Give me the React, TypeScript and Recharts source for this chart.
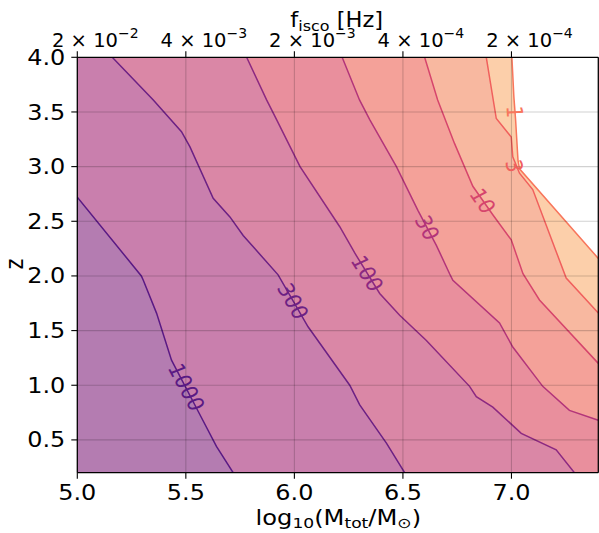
import React from 'react';
import { ComposedChart, Area, Line, XAxis, YAxis, ReferenceLine, ReferenceDot } from 'recharts';

// contour vertices as [z, log10 M]; null = gap where the label sits
type Pt = [number, number] | null;

const c1000: Pt[] = [[2.72, 5.0], [2.0, 5.295], [1.96, 5.304], [1.66, 5.365], [1.23, 5.434], null, [0.73, 5.565], [0.44, 5.641], [0.2, 5.718]];
const c300: Pt[] = [[4.0, 5.161], [3.61, 5.35], [3.32, 5.48], [3.18, 5.519], [2.71, 5.626], [2.54, 5.703], [2.37, 5.764], [2.01, 5.925], null, [1.535, 6.063], [1.0, 6.255], [0.82, 6.301], [0.47, 6.424], [0.2, 6.508]];
const c100: Pt[] = [[4.0, 5.78], [3.61, 5.872], [3.43, 5.918], [3.0, 6.026], [2.45, 6.209], [2.21, 6.278], null, [1.84, 6.393], [1.64, 6.485], [1.41, 6.608], [0.99, 6.807], [0.895, 6.838], [0.8, 6.914], [0.56, 7.045], [0.41, 7.206], [0.2, 7.29]];
const c30: Pt[] = [[4.0, 6.22], [3.61, 6.3], [3.43, 6.347], [3.0, 6.47], [2.6, 6.569], null, [2.28, 6.654], [2.02, 6.715], [1.96, 6.73], [1.57, 6.945], [1.35, 7.006], [0.99, 7.144], [0.77, 7.267], [0.68, 7.4]];
const c10: Pt[] = [[4.0, 6.6], [3.61, 6.66], [3.21, 6.738], [2.82, 6.822], null, [2.56, 6.914], [2.33, 6.999], [2.02, 7.053], [1.78, 7.129], [1.2, 7.4]];
const c3: Pt[] = [[4.0, 6.884], [3.44, 6.93], [3.27, 6.999], [3.09, 7.006], null, [2.94, 7.037], [2.79, 7.098], [1.98, 7.252], [1.66, 7.4]];
const c1: Pt[] = [[4.0, 7.002], [3.64, 7.011], null, [3.43, 7.019], [3.06, 7.03], [2.98, 7.037], [2.16, 7.4]];

const levelNames = ['1', '3', '10', '30', '100', '300', '1000'];
const contours = [c1, c3, c10, c30, c100, c300, c1000];
// fill of the band left of each contour, and the contour's own line colour
const bandFill = ['#fccfaa', '#f8b8a0', '#f4a199', '#e98f9d', '#da87a6', '#c97fad', '#b47cb1'];
const lineColor = ['#f8765c', '#f0605d', '#d6456c', '#b3357a', '#8c2981', '#6c2184', '#5a1a84'];

// contour label positions [log10 M, z, angle on screen]
const labelPos: [number, number, number][] = [
  [7.016, 3.5, 87],
  [7.014, 3.006, 75],
  [6.868, 2.687, 55],
  [6.612, 2.443, 62],
  [6.336, 2.024, 58],
  [5.994, 1.77, 60],
  [5.503, 0.984, 62],
];

const xTicks = [5.0, 5.5, 6.0, 6.5, 7.0];
const yTicks = [0.5, 1.0, 1.5, 2.0, 2.5, 3.0, 3.5, 4.0];
const fTickBase = ['2', '4', '2', '4', '2'];
const fTickExp = ['−2', '−3', '−3', '−4', '−4'];

const X_MIN = 5.0;
const X_MAX = 7.4;
const Z_MIN = 0.2;
const Z_MAX = 4.0;
const FONT = 'DejaVu Sans';
const SX = 1.14; // the reference's text is a little wide

const toLine = (pts: Pt[]) =>
  pts.map((p, i) => {
    if (p) return { z: p[0], x: p[1] };
    const prev = pts[i - 1] as [number, number];
    return { z: prev[0], x: null };
  });

const toArea = (pts: Pt[]) => {
  const out = pts.filter((p) => p !== null).map((p) => ({ z: p![0], x: p![1] }));
  if (out[0].z < Z_MAX) out.unshift({ z: Z_MAX, x: out[0].x });
  const last = out[out.length - 1];
  if (last.z > Z_MIN) out.push({ z: Z_MIN, x: last.x });
  return out;
};

const Wide = ({ x, y, sx = SX, rotate = 0, children, ...rest }: any) => (
  <g transform={`translate(${x},${y}) scale(${sx},1) rotate(${rotate})`}>
    <text x={0} y={0} fontFamily={FONT} {...rest}>
      {children}
    </text>
  </g>
);

const BottomTick = (props: any) => (
  <Wide x={props.x} y={props.y} dy="0.71em" textAnchor="middle" fontSize={21} fill="#000">
    {Number(props.payload.value).toFixed(1)}
  </Wide>
);

const LeftTick = (props: any) => (
  <Wide x={props.x} y={props.y} dy="0.36em" textAnchor="end" fontSize={21} fill="#000">
    {Number(props.payload.value).toFixed(1)}
  </Wide>
);

const TopTick = (props: any) => {
  const i = props.index;
  return (
    <text x={props.x + 18} y={props.y + 1} textAnchor="middle" fontSize={19.5} fontFamily={FONT} fill="#000">
      {fTickBase[i]} × 10
      <tspan dy={-9} fontSize={14}>{fTickExp[i]}</tspan>
    </text>
  );
};

const preAngle = (a: number, sx: number) => (Math.atan(Math.tan((a * Math.PI) / 180) * sx) * 180) / Math.PI;

export default function App() {
  return (
    <div style={{ position: 'absolute', left: 0, top: 0, width: 599, height: 533, background: '#fff' }}>
      <ComposedChart
        width={599}
        height={533}
        layout="vertical"
        margin={{ top: 0, right: 0.7, bottom: 0, left: 0 }}
      >
        <XAxis
          type="number"
          dataKey="x"
          domain={[X_MIN, X_MAX]}
          ticks={xTicks}
          allowDataOverflow
          height={60.3}
          tickSize={6}
          tickMargin={6.5}
          tick={BottomTick}
          axisLine={{ stroke: '#000', strokeWidth: 1.3 }}
          tickLine={{ stroke: '#000', strokeWidth: 1.1 }}
        />
        <XAxis
          xAxisId="top"
          orientation="top"
          type="number"
          domain={[X_MIN, X_MAX]}
          ticks={xTicks}
          allowDataOverflow
          height={57.3}
          tickSize={6}
          tickMargin={5}
          tick={TopTick}
          axisLine={{ stroke: '#000', strokeWidth: 1.3 }}
          tickLine={{ stroke: '#000', strokeWidth: 1.1 }}
        />
        <YAxis
          type="number"
          dataKey="z"
          domain={[Z_MIN, Z_MAX]}
          ticks={yTicks}
          reversed
          allowDataOverflow
          width={77.3}
          tickSize={6}
          tickMargin={6}
          tick={LeftTick}
          axisLine={{ stroke: '#000', strokeWidth: 1.3 }}
          tickLine={{ stroke: '#000', strokeWidth: 1.1 }}
        />
        {contours.map((c, i) => (
          <Area
            key={'a' + levelNames[i]}
            data={toArea(c)}
            dataKey="x"
            type="linear"
            baseValue={X_MIN}
            fill={bandFill[i]}
            fillOpacity={1}
            stroke="none"
            isAnimationActive={false}
          />
        ))}
        {contours.map((c, i) => (
          <Line
            key={'l' + levelNames[i]}
            data={toLine(c)}
            dataKey="x"
            type="linear"
            stroke={lineColor[i]}
            strokeWidth={1.5}
            dot={false}
            connectNulls={false}
            isAnimationActive={false}
          />
        ))}
        {xTicks.slice(1).map((t) => (
          <ReferenceLine key={'gx' + t} x={t} stroke="#000" strokeOpacity={0.18} strokeWidth={1.1} />
        ))}
        {yTicks.slice(0, -1).map((t) => (
          <ReferenceLine key={'gy' + t} y={t} stroke="#000" strokeOpacity={0.18} strokeWidth={1.1} />
        ))}
        <ReferenceLine x={X_MAX} stroke="#000" strokeWidth={1.3} />
        {labelPos.map((p, i) => (
          <ReferenceDot
            key={'t' + levelNames[i]}
            x={p[0]}
            y={p[1]}
            r={0}
            shape={(s: any) => (
              <Wide
                x={s.cx}
                y={s.cy}
                sx={1.15}
                rotate={preAngle(p[2], 1.15)}
                textAnchor="middle"
                dominantBaseline="central"
                fontSize={19.5}
                fill={lineColor[i]}
              >
                {levelNames[i]}
              </Wide>
            )}
          />
        ))}
      </ComposedChart>
      <svg width={599} height={533} style={{ position: 'absolute', left: 0, top: 0, pointerEvents: 'none' }}>
        <Wide x={336.7} y={27} sx={1.1} textAnchor="middle" fontSize={20.5} fill="#000">
          f<tspan dy={3.5} fontSize={14.5}>isco</tspan>
          <tspan dy={-3.5}> [Hz]</tspan>
        </Wide>
        <Wide x={338.3} y={524.5} sx={1.18} textAnchor="middle" fontSize={20.5} fill="#000">
          log<tspan dy={3.5} fontSize={14.5}>10</tspan>
          <tspan dy={-3.5}>(M</tspan>
          <tspan dy={3.5} fontSize={14.5}>tot</tspan>
          <tspan dy={-3.5}>/M</tspan>
          <tspan dy={3.5} fontSize={14.5}>⊙</tspan>
          <tspan dy={-3.5}>)</tspan>
        </Wide>
        <Wide x={14} y={264} sx={1.2} rotate={-90} textAnchor="middle" dominantBaseline="central" fontSize={20.5} fill="#000">
          z
        </Wide>
      </svg>
    </div>
  );
}
